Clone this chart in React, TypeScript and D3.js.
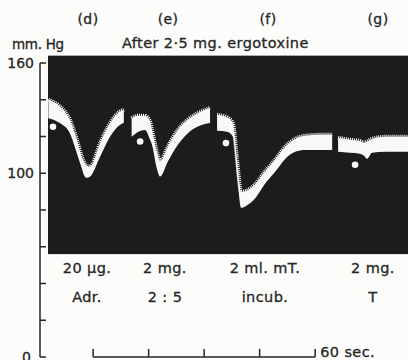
import React from 'react';
import * as d3 from 'd3';

// trace segments: [time (s), systolic, diastolic] in mm Hg
const segD = [
  [0.1, 140.0, 130.0], [3.2, 136.3, 127.3], [5.9, 129.1, 121.8], [7.8, 118.2, 110.9],
  [9.1, 109.1, 102.8], [9.7, 106.2, 99.1], [10.5, 104.0, 97.5], [11.4, 103.6, 98.2],
  [14.1, 116.4, 109.1], [16.8, 127.3, 120.0], [19.5, 133.6, 126.4], [20.5, 134.5, 127.5],
];
const segE = [
  [22.6, 129.8, 119.8], [24.3, 131.3, 122.5], [26.2, 131.3, 123.6], [27.6, 128.0, 118.2],
  [28.1, 123.6, 115.5], [29.5, 111.1, 101.9], [30.3, 106.4, 98.2], [32.4, 114.5, 106.4],
  [35.1, 123.6, 115.5], [37.8, 129.1, 121.8], [40.5, 132.7, 125.4], [43.8, 135.5, 127.3],
];
const segF = [
  [45.7, 131.8, 123.1], [48.6, 130.2, 122.5], [50.0, 126.9, 119.8], [51.1, 107.3, 99.1],
  [52.2, 89.9, 81.2], [53.5, 90.4, 82.2], [55.9, 93.7, 86.1], [58.6, 100.8, 94.2],
  [61.4, 107.3, 100.8], [64.1, 114.4, 107.8], [66.8, 118.7, 111.7], [69.5, 120.4, 112.7],
  [73.5, 120.9, 112.7], [76.8, 120.9, 112.7],
];
const segG = [
  [78.4, 119.3, 111.7], [81.6, 118.2, 111.1], [84.3, 117.6, 110.6], [85.4, 116.6, 109.5],
  [86.2, 117.2, 107.8], [87.6, 118.7, 111.1], [91.1, 119.8, 111.7], [97.3, 119.8, 111.7],
];
const segments = [segD, segE, segF, segG];

// injection signals (white dots)
const dots = [[1.35, 125.3], [24.9, 117.3], [48.1, 116.4], [83.0, 104.6]];

const letters = ['(d)', '(e)', '(f)', '(g)'];
const doses = ['20 \u00b5g.', '2 mg.', '2 ml. mT.', '2 mg.'];
const drugs = ['Adr.', '2 : 5', 'incub.', 'T'];
const letterX = [88, 168, 268, 378];
const labelX = [87, 165, 265, 373];

const yTicks = [0, 20, 40, 60, 80, 100, 120, 140, 160];
const yLabels = [0, 100, 160];
const timeTicks = [0, 15, 30, 45, 60];

const W = 408;
const H = 360;
const font = "'DejaVu Sans', sans-serif";
const ink = '#262626';
const trace = '#f8f8f6';

// shared look for the printed labels (slightly heavy, wide set)
const txt = { fontSize: 14.5, letterSpacing: 0.4, fill: ink, stroke: ink, strokeWidth: 0.3 };

export default function App() {
  const x = d3.scaleLinear().domain([0, 97.3]).range([48, 408]);
  const y = d3.scaleLinear().domain([0, 160]).range([357, 63]);
  const bar = d3.scaleLinear().domain([0, 60]).range([x(12.2), x(72.2)]);

  const area = d3.area<number[]>()
    .x(d => x(d[0]))
    .y0(d => y(d[2]))
    .y1(d => y(d[1]))
    .curve(d3.curveMonotoneX);
  const top = d3.line<number[]>()
    .x(d => x(d[0]))
    .y(d => y(d[1]))
    .curve(d3.curveMonotoneX);

  return (
    <svg width={W} height={H} style={{ position: 'absolute', left: 0, top: 0, background: '#fcfcfb', fontFamily: font }}>
      {/* letters & heading */}
      {letters.map((l, i) => (
        <text key={l} x={letterX[i]} y={24} textAnchor="middle" {...txt} fontSize={14}>{l}</text>
      ))}
      <text x={12} y={49} {...txt} fontSize={13.5} letterSpacing={-0.3}>mm. Hg</text>
      <text x={122} y={48} {...txt}>After 2·5 mg. ergotoxine</text>

      {/* kymograph dark panel */}
      <rect x={48} y={y(164)} width={W - 48} height={y(56) - y(164)} fill="#1c1c1c" />

      {segments.map((s, i) => (
        <g key={i}>
          <path d={area(s as any) || ''} fill={trace} />
          <path d={top(s as any) || ''} fill="none" stroke={trace} strokeWidth={4} strokeDasharray="1 1" />
        </g>
      ))}
      {dots.map((d, i) => (
        <circle key={i} cx={x(d[0])} cy={y(d[1])} r={3.3} fill={trace} />
      ))}

      {/* y axis */}
      <line x1={40} x2={40} y1={y(160)} y2={y(0)} stroke={ink} strokeWidth={1.5} />
      {yTicks.map(t => (
        <line key={t} x1={40} x2={46} y1={y(t)} y2={y(t)} stroke={ink} strokeWidth={1.5} />
      ))}
      {yLabels.map(t => (
        <text key={t} x={t === 0 ? 31 : 34} y={y(t)} dy="0.36em" textAnchor="end" {...txt} fontSize={14} letterSpacing={0}>{t}</text>
      ))}

      {/* dose labels */}
      {doses.map((d, i) => (
        <text key={'d' + i} x={labelX[i]} y={273} textAnchor="middle" {...txt}>{d}</text>
      ))}
      {drugs.map((d, i) => (
        <text key={'r' + i} x={labelX[i]} y={302} textAnchor="middle" {...txt}>{d}</text>
      ))}

      {/* time bar */}
      <line x1={bar(0)} x2={bar(60)} y1={357} y2={357} stroke={ink} strokeWidth={1.5} />
      {timeTicks.map(t => (
        <line key={t} x1={bar(t)} x2={bar(t)} y1={349} y2={357} stroke={ink} strokeWidth={1.5} />
      ))}
      <text x={bar(60) + 5} y={357} {...txt}>60 sec.</text>
    </svg>
  );
}
